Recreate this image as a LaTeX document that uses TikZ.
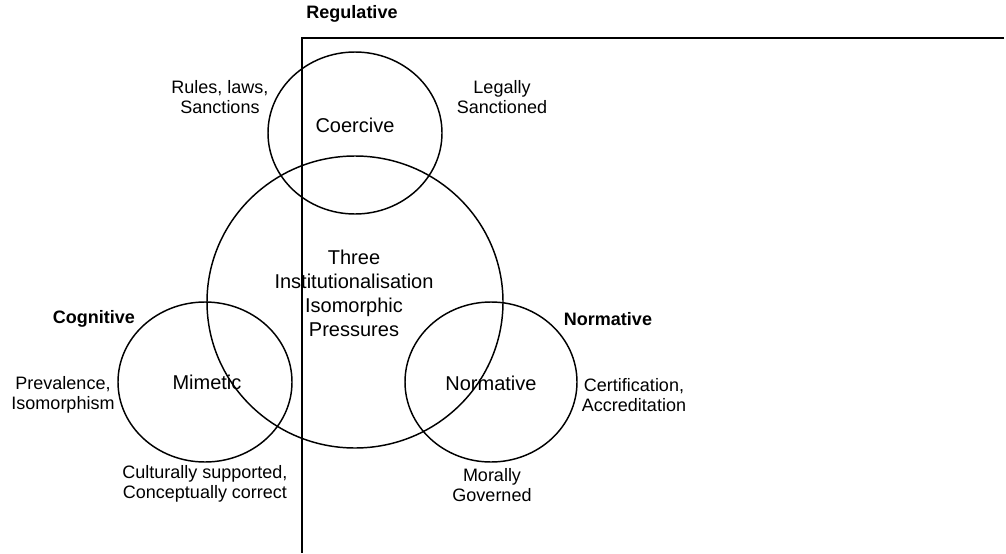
\documentclass[tikz,border=0pt]{standalone}
\usepackage{fontspec}
\setmainfont{Liberation Sans}
\tikzset{
  ring/.style={line width=1.1pt},
  frameline/.style={line width=1.5pt},
  pillar/.style={font=\fontsize{13.5}{15}\selectfont\bfseries},
  note/.style={font=\fontsize{13.5}{15}\selectfont, align=center},
  pressure/.style={font=\fontsize{15}{18}\selectfont, align=center},
}

\begin{document}
\begin{tikzpicture}[x=0.75pt, y=-0.75pt]
  \useasboundingbox (0,0) rectangle (1006,553);

  % the four circles
  \draw[ring] (355,302) ellipse [x radius=148, y radius=146];
  \draw[ring] (355,133) ellipse [x radius=87, y radius=81];
  \draw[ring] (205,382) ellipse [x radius=87, y radius=80];
  \draw[ring] (491,382) ellipse [x radius=86, y radius=80];

  % frame
  \coordinate (frameend) at (1004,38);
  \coordinate (framecorner) at (302,38);
  \coordinate (framefoot) at (302,553);
  \draw[frameline] (frameend) -- (framecorner) -- (framefoot);

  % centre
  \node[pressure] (three) at (354,293) {Three\\Institutionalisation\\Isomorphic\\Pressures};

  % Regulative side
  \node[pillar] (regulative) at (352,14) {Regulative};
  \node[pressure] (coercive) at (355,125) {Coercive};
  \node[note] (rules) at (220,97) {Rules, laws,\\Sanctions};
  \node[note] (legally) at (502,97) {Legally\\Sanctioned};

  % Cognitive side
  \node[pillar] (cognitive) at (94,319) {Cognitive};
  \node[pressure] (mimetic) at (207,382) {Mimetic};
  \node[note] (prevalence) at (63,395) {Prevalence,\\Isomorphism};
  \node[note] (culturally) at (205,484) {Culturally supported,\\Conceptually correct};

  % Normative side
  \node[pillar] (normativehead) at (608,319) {Normative};
  \node[pressure] (normative) at (491,383) {Normative};
  \node[note] (certification) at (634,395) {Certification,\\Accreditation};
  \node[note] (morally) at (492,485) {Morally\\Governed};
\end{tikzpicture}
\end{document}
